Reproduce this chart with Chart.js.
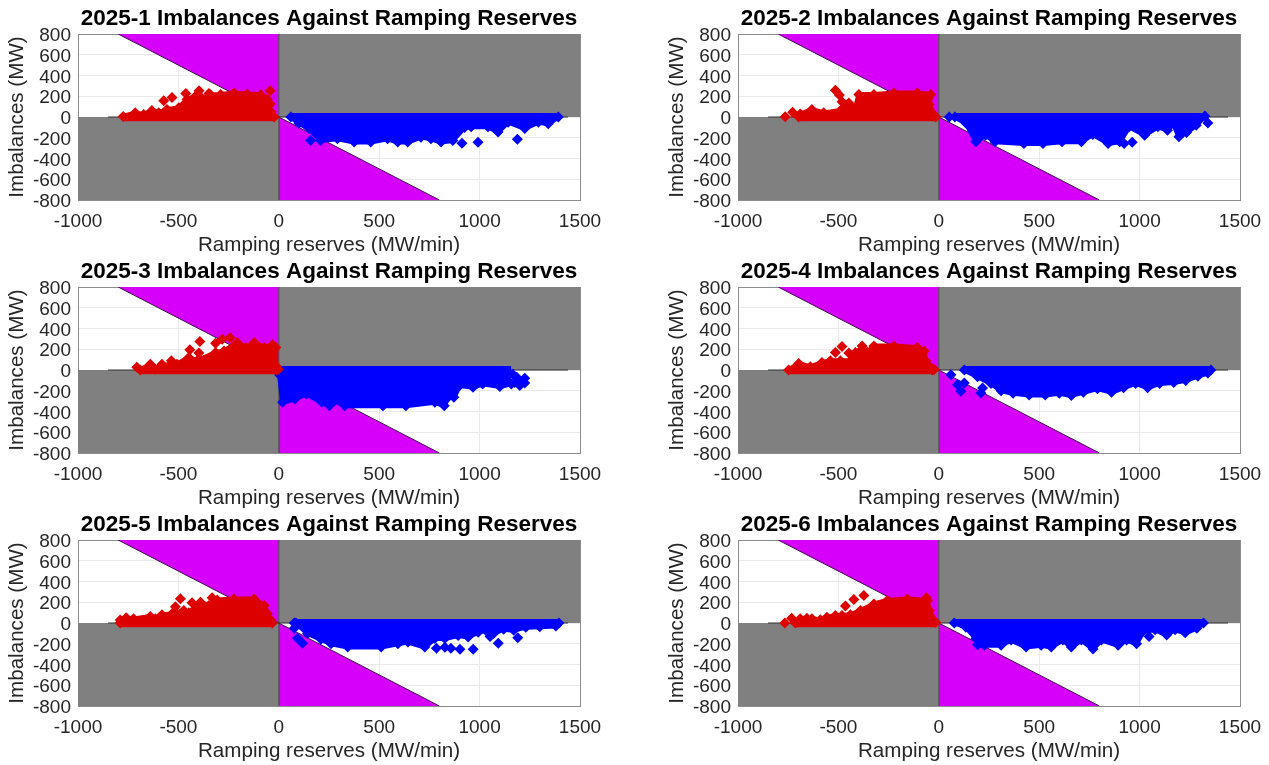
<!DOCTYPE html>
<html>
<head>
<meta charset="utf-8">
<title>Imbalances Against Ramping Reserves</title>
<script src="https://cdn.jsdelivr.net/npm/chart.js@4"></script>
<style>
    body { margin: 0; background: #fff; overflow: hidden; }
    .panel { position: absolute; }
</style>
</head>
<body>
<script>
var panelNames = ['2025-1', '2025-2', '2025-3', '2025-4', '2025-5', '2025-6'];
var xTicks = [-1000, -500, 0, 500, 1000, 1500];
var yTicks = [-800, -600, -400, -200, 0, 200, 400, 600, 800];

// Regions of the (reserves, imbalance) plane
var limitUp = [[-800, 800], [0, 0]];
var limitDown = [[0, 0], [800, -800]];
var greyLow = [[-1000, 0], [0, 0]];
var greyHigh = [[0, 0], [1500, 0]];
var zeroLine = [[-850, 0], [1440, 0]];
var axisLine = [[0, -800], [0, 800]];

// Red points: outer edge of the cloud, then the points lying apart from it
var red1 = [[-775, 5], [-715, 40], [-673, 25], [-632, 63], [-598, 40], [-557, 72], [-498, 88], [-457, 170], [-415, 200], [-382, 180], [-340, 215], [-290, 216], [-223, 232], [-157, 222], [-90, 215], [-57, 170], [-40, 50], [-23, 0]];
var red1Apart = [[-573, 157], [-532, 188], [-463, 227], [-397, 253], [-397, 195], [-348, 227], [-43, 252], [-43, 125]];
var red2 = [[-698, 0], [-690, 28], [-632, 72], [-573, 40], [-490, 63], [-448, 136], [-415, 88], [-398, 216], [-323, 216], [-223, 232], [-107, 232], [-40, 216], [-48, 120], [-15, 0]];
var red2Apart = [[-765, 3], [-728, 45], [-515, 259], [-495, 211], [-482, 148]];
var red3 = [[-690, 0], [-640, 56], [-615, 8], [-582, 56], [-557, 24], [-535, 88], [-507, 56], [-448, 120], [-407, 88], [-315, 168], [-273, 184], [-207, 264], [-165, 216], [-123, 264], [-73, 216], [-32, 243], [-15, 216], [-15, 40], [-10, 0]];
var red3Apart = [[-707, 26], [-393, 275], [-443, 195], [-398, 163], [-315, 259], [-282, 297], [-243, 310], [-2, 8]];
var red4 = [[-748, 0], [-698, 63], [-640, 31], [-582, 72], [-540, 88], [-490, 88], [-440, 88], [-415, 168], [-398, 170], [-382, 232], [-357, 170], [-323, 232], [-223, 232], [-107, 216], [-73, 184], [-65, 88], [-40, 25], [-32, 0]];
var red4Apart = [[-515, 168], [-482, 227], [-448, 163], [-23, 5]];
var red5 = [[-790, 0], [-790, 30], [-760, 50], [-723, 40], [-640, 63], [-615, 40], [-582, 80], [-532, 88], [-473, 120], [-448, 100], [-390, 200], [-348, 168], [-307, 222], [-223, 232], [-123, 232], [-73, 168], [-57, 88], [-40, 30], [-32, 0]];
var red5Apart = [[-490, 233], [-515, 157], [-332, 243], [-432, 195]];
var red6 = [[-715, 0], [-690, 40], [-657, 45], [-632, 40], [-590, 32], [-557, 56], [-515, 72], [-482, 72], [-440, 80], [-390, 120], [-323, 184], [-257, 218], [-157, 232], [-57, 216], [-48, 120], [-15, 5]];
var red6Apart = [[-767, 0], [-733, 45], [-423, 227], [-465, 163], [-373, 265], [-62, 243]];

// Blue points: outer edge of the cloud, then the points lying apart from it
var blue1 = [[60, 0], [100, -60], [150, -110], [208, -226], [292, -210], [375, -242], [458, -242], [542, -210], [592, -242], [642, -242], [708, -194], [758, -210], [808, -242], [867, -226], [925, -100], [958, -95], [1042, -95], [1092, -145], [1142, -50], [1225, -110], [1292, -50], [1342, -66], [1392, 0]];
var blue1Apart = [[158, -227], [912, -253], [992, -243], [1188, -214]];
var blue2 = [[80, 0], [137, -63], [185, -239], [233, -175], [280, -239], [424, -255], [519, -255], [614, -239], [710, -239], [767, -168], [843, -255], [901, -239], [948, -95], [1025, -175], [1091, -95], [1139, -127], [1168, -63], [1196, -190], [1234, -149], [1282, -79], [1325, 10]];
var blue2Apart = [[52, 0], [923, -256], [963, -243], [1340, -58]];
var blue3 = [[4, -48], [19, -312], [80, -280], [137, -231], [214, -312], [252, -344], [300, -295], [328, -344], [519, -344], [633, -344], [777, -312], [824, -344], [843, -263], [872, -263], [901, -150], [967, -167], [1015, -134], [1101, -160], [1158, -134]];
var blue3Apart = [[1165, -40], [1185, -70], [1200, -110], [1225, -80], [1225, -125], [1200, -150], [1175, -120]];
var blue4 = [[127, 0], [193, -65], [260, -130], [310, -200], [370, -225], [450, -240], [530, -240], [600, -225], [660, -245], [720, -215], [790, -180], [860, -215], [920, -170], [980, -130], [1040, -170], [1100, -130], [1170, -120], [1230, -100], [1290, -60], [1340, -30], [1355, 0]];
var blue4Apart = [[60, -45], [93, -141], [110, -205], [127, -125], [210, -221], [218, -173]];
var blue5 = [[85, 0], [143, -100], [260, -200], [343, -232], [510, -232], [593, -200], [643, -183], [727, -232], [777, -150], [827, -150], [893, -120], [943, -135], [993, -90], [1030, -70], [1070, -100], [1120, -60], [1170, -70], [1230, -40], [1300, -35], [1380, -30], [1395, 0]];
var blue5Apart = [[77, 0], [77, -51], [93, -147], [118, -195], [210, -157], [785, -243], [857, -243], [902, -253], [968, -253], [827, -233], [1093, -195], [1052, -131], [1190, -141]];
var blue6 = [[77, 0], [135, -40], [185, -150], [193, -209], [227, -215], [310, -215], [360, -165], [435, -232], [510, -215], [560, -232], [618, -165], [660, -232], [710, -165], [768, -250], [810, -165], [893, -215], [935, -165], [985, -200], [1018, -80], [1077, -65], [1135, -115], [1177, -65], [1227, -95], [1285, -50], [1318, 0]];
var blue6Apart = [[1047, -131]];

var redEdges = [red1, red2, red3, red4, red5, red6];
var redApart = [red1Apart, red2Apart, red3Apart, red4Apart, red5Apart, red6Apart];
var blueEdges = [blue1, blue2, blue3, blue4, blue5, blue6];
var blueApart = [blue1Apart, blue2Apart, blue3Apart, blue4Apart, blue5Apart, blue6Apart];

var RED = '#dc0000';
var BLUE = '#0000ff';
var MAGENTA = '#d600fa';
var GREY = '#808080';
var INK = '#262626';
var FRAME = '#8c8c8c';
var FONT = '"Liberation Sans", Arial, sans-serif';
var MARKER = 5.5;

function toPoints(pairs) {
    return pairs.map(function (p) {
        return {x: p[0], y: p[1]};
    });
}

function region(pairs, fill, color, border) {
    return {
        data: toPoints(pairs),
        showLine: true,
        fill: fill,
        backgroundColor: color,
        borderColor: border || color,
        borderWidth: border ? 1 : 0,
        pointRadius: 0,
        order: 5,
    };
}

function line(pairs, color) {
    return {
        data: toPoints(pairs),
        showLine: true,
        fill: false,
        borderColor: color,
        borderWidth: 1,
        pointRadius: 0,
        order: 4,
    };
}

// The cloud is filled between its edge and the band around zero.
// The wide round stroke stands in for the markers packed along the edge.
function cloud(pairs, band, color, order) {
    return {
        data: toPoints(pairs),
        showLine: true,
        fill: {value: band},
        backgroundColor: color,
        borderColor: color,
        borderWidth: 5,
        borderJoinStyle: 'round',
        borderCapStyle: 'round',
        pointStyle: 'rectRot',
        pointRadius: MARKER,
        pointBackgroundColor: color,
        pointBorderWidth: 0,
        order: order,
    };
}

function apart(pairs, color, order) {
    return {
        data: toPoints(pairs),
        pointStyle: 'rectRot',
        pointRadius: MARKER,
        pointBackgroundColor: color,
        pointBorderWidth: 0,
        order: order,
    };
}

function axisOptions(ticks, label, fitSide, fitSize) {
    var isY = fitSide === 'width';
    var first = ticks[0];
    var last = ticks[ticks.length - 1];
    return {
        type: 'linear',
        min: first,
        max: last,
        afterBuildTicks: function (scale) {
            scale.ticks = ticks.map(function (v) {
                return {value: v};
            });
        },
        afterFit: function (scale) {
            scale[fitSide] = fitSize;
        },
        grid: {
            color: function (ctx) {
                var v = ctx.tick && ctx.tick.value;
                return v === first || v === last ? FRAME : '#eaeaea';
            },
            lineWidth: 1,
            drawTicks: false,
        },
        border: {color: FRAME, width: 1},
        ticks: {
            color: INK,
            // small line height: the empty first line nudges y labels down onto their grid line
            font: isY ? {family: FONT, size: 19, lineHeight: 0.2} : {family: FONT, size: 19},
            padding: isY ? 7 : 10,
            autoSkip: false,
            maxRotation: 0,
            callback: function (value) {
                return isY ? ['', String(value)] : String(value);
            },
        },
        title: {
            display: true,
            text: label,
            color: INK,
            font: {family: FONT, size: 20.6},
            padding: isY ? {top: 5, bottom: 0} : {top: 0, bottom: 0},
        },
    };
}

function drawPanel(index) {
    var canvas = document.createElement('canvas');
    canvas.className = 'panel';
    canvas.width = 630;
    canvas.height = 258;
    canvas.style.left = (index % 2) * 660 + 'px';
    canvas.style.top = Math.floor(index / 2) * 253 + 'px';
    document.body.appendChild(canvas);

    new Chart(canvas.getContext('2d'), {
        type: 'scatter',
        data: {
            datasets: [
                region(limitUp, 'end', MAGENTA, '#3c1048'),
                region(limitDown, 'start', MAGENTA, '#3c1048'),
                region(greyLow, 'start', GREY),
                region(greyHigh, 'end', GREY),
                line(zeroLine, '#303030'),
                line(axisLine, '#404040'),
                cloud(blueEdges[index], 38, BLUE, 3),
                apart(blueApart[index], BLUE, 3),
                cloud(redEdges[index], -40, RED, 2),
                apart(redApart[index], RED, 2),
            ],
        },
        options: {
            responsive: false,
            maintainAspectRatio: false,
            animation: false,
            layout: {padding: {left: 0, right: 50, top: 0, bottom: 0}},
            scales: {
                x: axisOptions(xTicks, 'Ramping reserves (MW/min)', 'height', 58),
                y: axisOptions(yTicks, 'Imbalances (MW)', 'width', 78),
            },
            plugins: {
                legend: {display: false},
                tooltip: {enabled: false},
                title: {
                    display: true,
                    fullSize: false,
                    text: panelNames[index] + ' Imbalances Against Ramping Reserves',
                    color: '#000',
                    font: {family: FONT, size: 22.5, weight: 'bold', lineHeight: 1.2},
                    padding: {top: 5, bottom: 2},
                },
            },
        },
    });
}

for (var i = 0; i < panelNames.length; i++) {
    drawPanel(i);
}
</script>
</body>
</html>
